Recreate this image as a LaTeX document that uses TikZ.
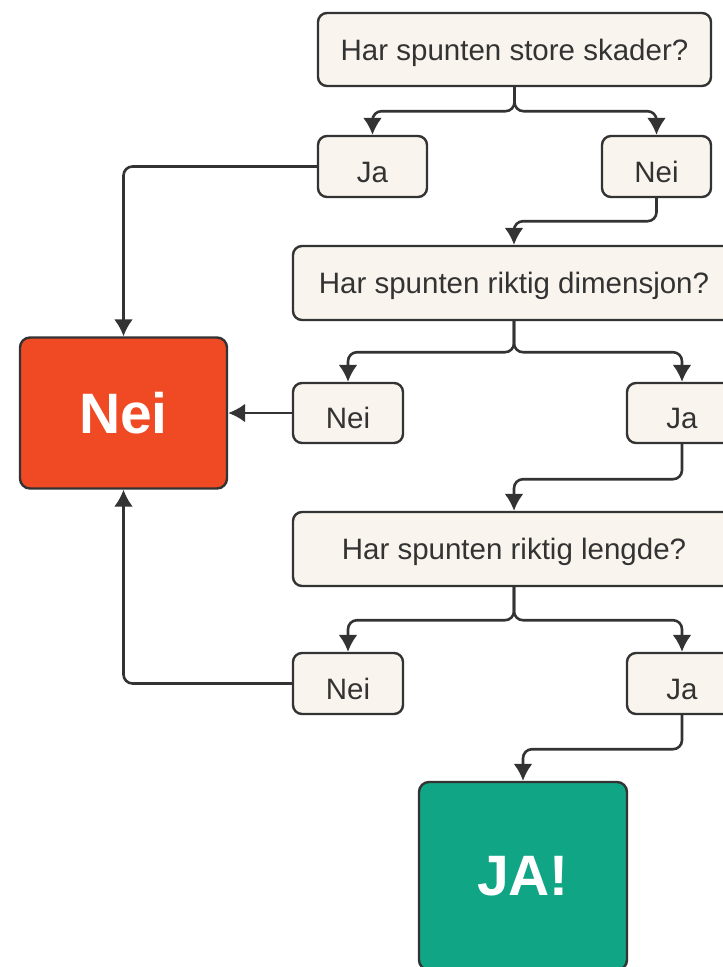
\documentclass[tikz,border=0pt]{standalone}
\usepackage{fontspec}
\setmainfont{Liberation Sans}
\usetikzlibrary{arrows.meta}
\definecolor{boxfill}{HTML}{F9F5EE}
\definecolor{linegray}{HTML}{333333}
\definecolor{neired}{HTML}{F04A24}
\definecolor{jagreen}{HTML}{0FA585}
\tikzset{arrow/.style={-{Latex[length=17pt,width=19pt]}, draw=linegray, line width=2.6pt, rounded corners=9pt}}
\tikzset{qbox/.style={rectangle, rounded corners=9pt, draw=linegray, line width=2.4pt, fill=boxfill, inner sep=0pt, font=\fontsize{29.5}{34}\selectfont, text=linegray, text height=21.2pt, text depth=0pt}}
\tikzset{abox/.style={qbox, text height=31pt}}
\tikzset{endbox/.style={rectangle, rounded corners=10pt, draw=linegray, line width=2.4pt, inner sep=0pt, text=white, font=\fontsize{57}{64}\selectfont\bfseries}}

\begin{document}
\begin{tikzpicture}[x=1pt, y=-1pt]
      \useasboundingbox (0,0) rectangle (723,967);
      \clip (0,0) rectangle (723,967);

      \node[qbox, minimum width=393pt, minimum height=73pt] (q1) at (514.5, 49.5) {Har spunten store skader?};
      \node[abox, minimum width=109pt, minimum height=61pt] (ja1) at (372.5, 166.5) {Ja};
      \node[abox, minimum width=109pt, minimum height=61pt] (nei1) at (656.5, 166.5) {Nei};

      \node[qbox, minimum width=442pt, minimum height=74pt] (q2) at (514, 283) {Har spunten riktig dimensjon?};
      \node[abox, minimum width=110pt, minimum height=60pt] (nei2) at (348, 413) {Nei};
      \node[abox, minimum width=110pt, minimum height=60pt] (ja2) at (682, 413) {Ja};

      \node[qbox, minimum width=442pt, minimum height=74pt] (q3) at (514, 549) {Har spunten riktig lengde?};
      \node[abox, minimum width=110pt, minimum height=61pt] (nei3) at (348, 683.5) {Nei};
      \node[abox, minimum width=110pt, minimum height=61pt] (ja3) at (682, 683.5) {Ja};

      \node[endbox, fill=neired, minimum width=207pt, minimum height=151pt] (nei) at (123.5, 413) {Nei};
      \node[endbox, fill=jagreen, minimum width=208pt, minimum height=188pt] (ja) at (523, 876) {JA!};

      \draw[arrow] (q1.south) -- ++(0,24) -| (ja1.north);
      \draw[arrow] (q1.south) -- ++(0,24) -| (nei1.north);
      \draw[arrow] (ja1.west) -| (nei.north);
      \draw[arrow] (nei1.south) -- ++(0,23) -| (q2.north);

      \draw[arrow] (q2.south) -- ++(0,31) -| (nei2.north);
      \draw[arrow] (q2.south) -- ++(0,31) -| (ja2.north);
      \draw[arrow] (nei2.west) -- (nei.east);
      \draw[arrow] (ja2.south) -- ++(0,35) -| (q3.north);

      \draw[arrow] (q3.south) -- ++(0,33) -| (nei3.north);
      \draw[arrow] (q3.south) -- ++(0,33) -| (ja3.north);
      \draw[arrow] (nei3.west) -| (nei.south);
      \draw[arrow] (ja3.south) -- ++(0,34) -| (ja.north);
    \end{tikzpicture}
\end{document}
